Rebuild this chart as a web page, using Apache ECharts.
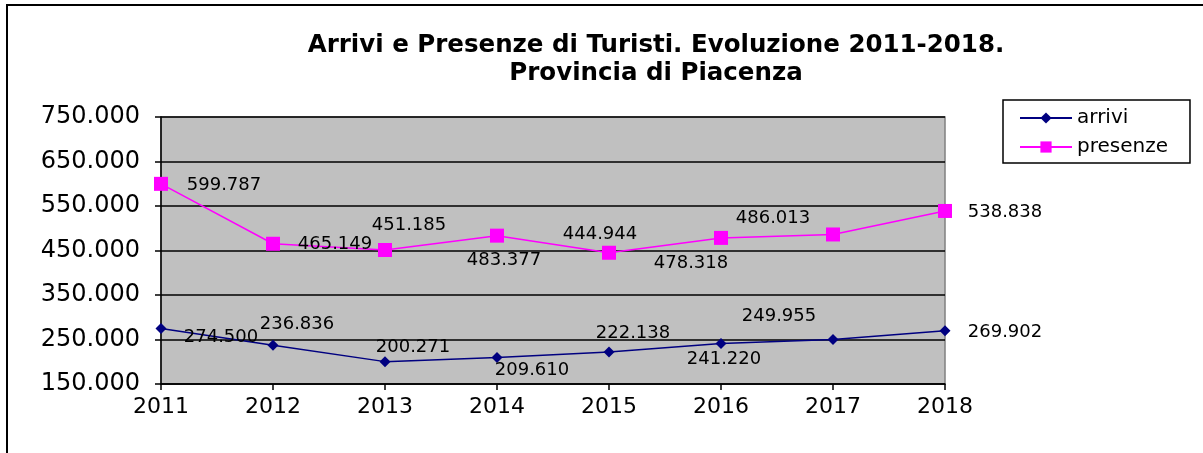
<!DOCTYPE html>
<html>
<head>
<meta charset="utf-8">
<script src="https://cdn.jsdelivr.net/npm/echarts@6/dist/echarts.min.js"></script>
<style>
  html, body { margin: 0; padding: 0; background: #fff; }
  #chart { width: 1203px; height: 453px; }
</style>
</head>
<body>
<div id="chart"></div>
<script>
// ---- data ----
const years = ['2011', '2012', '2013', '2014', '2015', '2016', '2017', '2018'];
const arrivi = [274500, 236836, 200271, 209610, 222138, 241220, 249955, 269902];
const presenze = [599787, 465149, 451185, 483377, 444944, 478318, 486013, 538838];
const yTicks = [150000, 250000, 350000, 450000, 550000, 650000, 750000];
const titleText = 'Arrivi e Presenze di Turisti. Evoluzione 2011-2018.\nProvincia di Piacenza';

// ---- label placement (style only) ----
const arriviLabelOffsets = [[60, 9], [24, -21], [28, -14], [35, 13], [24, -19], [3, 16], [-54, -23], [60, 2]];
const presenzeLabelOffsets = [[63, 1], [62, 1], [24, -25], [7, 25], [-9, -18], [-30, 25], [-60, -16], [60, 1]];

function fmt(v) {
  return String(Math.round(v)).replace(/\B(?=(\d{3})+(?!\d))/g, '.');
}

function withLabels(values, offsets) {
  return values.map((v, i) => ({
    value: v,
    label: { offset: offsets[i] }
  }));
}

const FONT = 'DejaVu Sans';

const chart = echarts.init(document.getElementById('chart'), null, { renderer: 'canvas' });
chart.setOption({
  animation: false,
  backgroundColor: '#ffffff',
  title: {
    text: titleText,
    left: 651,
    top: 27,
    textAlign: 'center',
    textStyle: {
      fontFamily: FONT,
      fontWeight: 'bold',
      fontSize: 24.5,
      color: '#000',
      lineHeight: 28
    }
  },
  graphic: [{
    type: 'rect',
    shape: { x: 7, y: 5, width: 1400, height: 700 },
    style: { fill: 'none', stroke: '#000', lineWidth: 2 },
    silent: true,
    z: 100
  }],
  legend: {
    orient: 'vertical',
    left: 1003,
    top: 100,
    padding: [8, 22, 6, 16],
    itemGap: 9,
    itemWidth: 52,
    itemHeight: 14,
    borderColor: '#000',
    borderWidth: 1.5,
    backgroundColor: '#fff',
    textStyle: { fontFamily: FONT, fontSize: 20, color: '#000', padding: [0, 0, 0, 0] },
    data: ['arrivi', 'presenze']
  },
  grid: {
    left: 161,
    right: 258,
    top: 117,
    bottom: 69,
    show: true,
    backgroundColor: '#c0c0c0',
    borderColor: '#808080',
    borderWidth: 1.5,
    containLabel: false
  },
  xAxis: {
    type: 'category',
    data: years,
    boundaryGap: false,
    axisLine: { show: true, lineStyle: { color: '#000', width: 1.5 } },
    axisTick: { show: true, alignWithLabel: true, length: 6, lineStyle: { color: '#000', width: 1.5 } },
    axisLabel: { fontFamily: FONT, fontSize: 22, color: '#000', margin: 12 },
    splitLine: { show: false }
  },
  yAxis: {
    type: 'value',
    min: 150000,
    max: 750000,
    axisLine: { show: true, lineStyle: { color: '#000', width: 1.5 } },
    axisTick: { show: true, length: 6, customValues: yTicks, lineStyle: { color: '#000', width: 1.5 } },
    axisLabel: { customValues: yTicks, fontFamily: FONT, fontSize: 24, color: '#000', margin: 21, formatter: fmt },
    splitLine: { show: true, lineStyle: { color: '#000', width: 1.5 } }
  },
  series: [
    {
      name: 'arrivi',
      type: 'line',
      data: withLabels(arrivi, arriviLabelOffsets),
      symbol: 'diamond',
      symbolSize: 11,
      color: '#000080',
      lineStyle: { color: '#000080', width: 1.5 },
      itemStyle: { color: '#000080' },
      label: {
        show: true,
        position: 'inside',
        fontFamily: FONT,
        fontSize: 18,
        color: '#000',
        formatter: p => fmt(p.value)
      },
      z: 3
    },
    {
      name: 'presenze',
      type: 'line',
      data: withLabels(presenze, presenzeLabelOffsets),
      symbol: 'rect',
      symbolSize: 14,
      color: '#ff00ff',
      lineStyle: { color: '#ff00ff', width: 1.5 },
      itemStyle: { color: '#ff00ff' },
      label: {
        show: true,
        position: 'inside',
        fontFamily: FONT,
        fontSize: 18,
        color: '#000',
        formatter: p => fmt(p.value)
      },
      z: 3
    }
  ]
});
</script>
</body>
</html>
